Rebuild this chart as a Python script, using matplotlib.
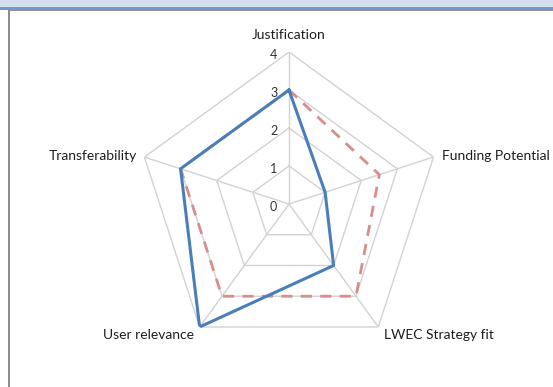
import numpy as np
import matplotlib
matplotlib.use('Agg')
import matplotlib.pyplot as plt
from matplotlib.patches import Rectangle

plt.rcParams['font.family'] = ['Lato', 'DejaVu Sans']

categories = ['Justification', 'Funding Potential', 'LWEC Strategy fit',
              'User relevance', 'Transferability']
series_blue = [3, 1, 2, 4, 3]
series_red = [3, 2.5, 3, 3, 3]
ticks = [0, 1, 2, 3, 4]

n = len(categories)
theta = np.linspace(0, 2 * np.pi, n, endpoint=False)
theta_c = np.append(theta, theta[0])

fig = plt.figure(figsize=(5.53, 3.87), dpi=100)
fig.patch.set_facecolor('white')

# window frame from the screenshot
fig.patches.append(Rectangle((0, 1 - 7 / 387), 1, 7 / 387, transform=fig.transFigure,
                             facecolor='#d5e0ef', edgecolor='none'))
fig.patches.append(Rectangle((0, 1 - 10 / 387), 1, 3 / 387, transform=fig.transFigure,
                             facecolor='#7299cb', edgecolor='none'))
fig.patches.append(Rectangle((8 / 553, 1 - 11 / 387), 1, 1 / 387, transform=fig.transFigure,
                             facecolor='#909090', edgecolor='none'))
fig.patches.append(Rectangle((8 / 553, 0), 1.5 / 553, 1 - 10 / 387, transform=fig.transFigure,
                             facecolor='#8c8c8c', edgecolor='none'))

ax = fig.add_axes([0.2477, 0.0801, 0.5497, 0.7855], projection='polar')
ax.set_theta_zero_location('N')
ax.set_theta_direction(-1)
ax.set_ylim(0, 4)
ax.grid(False)
ax.spines['polar'].set_visible(False)
ax.set_xticks([])
ax.set_yticks([])
ax.patch.set_alpha(0)

# pentagon grid
for r in ticks[1:]:
    ax.plot(theta_c, [r] * (n + 1), color='#d2d2d2', lw=1, zorder=1)
for t in theta:
    ax.plot([t, t], [0, 4], color='#d2d2d2', lw=1, zorder=1)

ax.plot(theta_c, series_red + series_red[:1], color='#d98c8b', lw=2,
        dashes=(4, 3), zorder=3)
ax.plot(theta_c, series_blue + series_blue[:1], color='#4a7ebb', lw=2.2, zorder=4)

for r in ticks:
    ax.annotate(str(r), (0, r), xytext=(-11, -2.5), textcoords='offset points',
                ha='center', va='center', fontsize=9, color='#333333')

offsets = [((0, 12), 'center', 'center'),
           ((6, 1), 'left', 'center'),
           ((4, -5.5), 'left', 'center'),
           ((-4, -5.5), 'right', 'center'),
           ((-5, 1), 'right', 'center')]
for t, lab, (off, ha, va) in zip(theta, categories, offsets):
    ax.annotate(lab, (t, 4), xytext=off, textcoords='offset points',
                ha=ha, va=va, fontsize=10, color='#1e1e1e')

fig.savefig('out.png', dpi=100, facecolor='white')
